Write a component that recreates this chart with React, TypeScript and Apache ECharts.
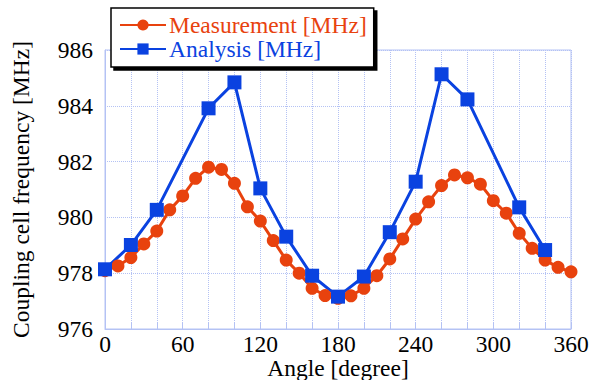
import React, { useEffect, useRef } from "react";
import * as echarts from "echarts";

const measAngles = [0, 10, 20, 30, 40, 50, 60, 70, 80, 90, 100, 110, 120, 130, 140, 150, 160, 170, 180, 190, 200, 210, 220, 230, 240, 250, 260, 270, 280, 290, 300, 310, 320, 330, 340, 350, 360];
const measValues = [978.09, 978.26, 978.56, 979.05, 979.51, 980.27, 980.77, 981.4, 981.8, 981.72, 981.22, 980.38, 979.87, 979.17, 978.47, 978.0, 977.46, 977.2, 977.1, 977.19, 977.46, 977.91, 978.51, 979.23, 979.94, 980.56, 981.14, 981.52, 981.42, 981.19, 980.6, 980.15, 979.43, 978.89, 978.47, 978.21, 978.05];
const anaAngles = [0, 20, 40, 80, 100, 120, 140, 160, 180, 200, 220, 240, 260, 280, 320, 340];
const anaValues = [978.14, 979.01, 980.27, 983.91, 984.84, 981.04, 979.31, 977.91, 977.16, 977.88, 979.47, 981.28, 985.13, 984.23, 980.36, 978.83];

const measName = "Measurement [MHz]";
const anaName = "Analysis [MHz]";
const xTitle = "Angle [degree]";
const yTitle = "Coupling cell frequency [MHz]";

const RED = "#e8420e";
const BLUE = "#0a42e0";
const GRID = "#b4c2f4";
const FONT = "'Liberation Serif', 'Times New Roman', serif";
const FS = 23.5;

export default function App() {
  const ref = useRef<HTMLDivElement>(null);
  useEffect(() => {
    if (!ref.current) return;
    const chart = echarts.init(ref.current, undefined, { renderer: "svg" });
    chart.setOption({
      animation: false,
      textStyle: { fontFamily: FONT },
      grid: { left: 105, right: 27, top: 50, bottom: 51, show: true, borderColor: GRID, borderWidth: 1, outerBoundsMode: "none", containLabel: false },
      legend: {
        orient: "vertical",
        left: 111,
        top: 8,
        padding: [5, 7, 6, 8],
        itemGap: 0,
        itemWidth: 46,
        itemHeight: 14,
        backgroundColor: "#fff",
        borderColor: "#000",
        borderWidth: 1.5,
        borderRadius: 0,
        shadowColor: "#000",
        shadowBlur: 0,
        shadowOffsetX: 3,
        shadowOffsetY: 3,
        textStyle: { fontFamily: FONT, fontSize: FS, padding: [0, 0, 0, -2] },
        data: [
          { name: measName, textStyle: { color: RED, fontFamily: FONT } },
          { name: anaName, textStyle: { color: BLUE, fontFamily: FONT } },
        ],
      },
      xAxis: {
        type: "value",
        min: 0,
        max: 360,
        interval: 60,
        name: xTitle,
        nameLocation: "middle",
        nameGap: 27,
        nameMoveOverlap: false,
        nameTextStyle: { fontFamily: FONT, fontSize: FS, color: "#000" },
        axisLine: { show: true, lineStyle: { color: GRID } },
        axisTick: { show: true, inside: true, length: 6, lineStyle: { color: GRID } },
        minorTick: { show: true, splitNumber: 3, length: 6, lineStyle: { color: GRID } },
        axisLabel: { fontFamily: FONT, fontSize: FS, color: "#000", margin: 3 },
        splitLine: { show: true, lineStyle: { color: GRID, type: "dotted", width: 1 } },
        minorSplitLine: { show: true, lineStyle: { color: GRID, type: "dotted", width: 1 } },
      },
      yAxis: {
        type: "value",
        min: 976,
        max: 986,
        interval: 2,
        name: yTitle,
        nameLocation: "middle",
        nameGap: 72,
        nameMoveOverlap: false,
        nameTextStyle: { fontFamily: FONT, fontSize: FS, color: "#000" },
        axisLine: { show: true, lineStyle: { color: GRID } },
        axisTick: { show: false },
        axisLabel: { fontFamily: FONT, fontSize: FS, color: "#000", margin: 12, padding: [0, 0, 9, 0] },
        splitLine: { show: true, lineStyle: { color: GRID, type: "dotted", width: 1 } },
      },
      series: [
        {
          name: measName,
          type: "line",
          data: measAngles.map((a, i) => [a, measValues[i]]),
          symbol: "circle",
          symbolSize: 13,
          lineStyle: { color: RED, width: 3 },
          itemStyle: { color: RED },
        },
        {
          name: anaName,
          type: "line",
          data: anaAngles.map((a, i) => [a, anaValues[i]]),
          symbol: "rect",
          symbolSize: 14,
          lineStyle: { color: BLUE, width: 3 },
          itemStyle: { color: BLUE },
          z: 3,
        },
      ],
    });
    return () => chart.dispose();
  }, []);
  return <div ref={ref} style={{ width: 598, height: 380, position: "absolute", left: 0, top: 0 }} />;
}
